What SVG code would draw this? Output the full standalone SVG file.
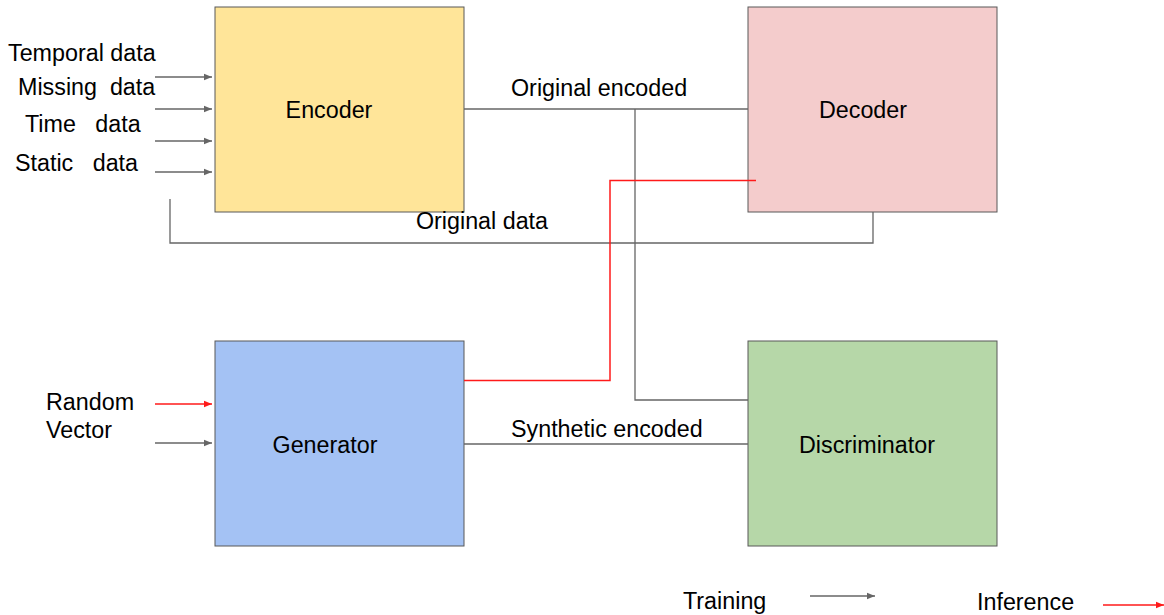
<svg xmlns="http://www.w3.org/2000/svg" width="1164" height="615" viewBox="0 0 1164 615">
<style>
text{font-family:"Liberation Sans",Arial,sans-serif;font-size:23.3px;fill:#000;white-space:pre}
.box{stroke:#595959;stroke-width:1}
.g{fill:none;stroke:#666;stroke-width:1.3}
.r{fill:none;stroke:#ff1a1a;stroke-width:1.5}
.m{text-anchor:middle}
</style>
<defs>
<marker id="ag" viewBox="0 0 10 10" refX="10" refY="5" markerWidth="8" markerHeight="8" markerUnits="userSpaceOnUse" orient="auto"><path d="M0,1 L10,5 L0,9 Z" fill="#666"/></marker>
<marker id="ar" viewBox="0 0 10 10" refX="10" refY="5" markerWidth="8" markerHeight="8" markerUnits="userSpaceOnUse" orient="auto"><path d="M0,1 L10,5 L0,9 Z" fill="#ff1a1a"/></marker>
</defs>
<rect width="1164" height="615" fill="#fff"/>
<g id="encoder">
<rect class="box" x="215" y="7" width="249" height="205" fill="#ffe599"/>
<text class="m" x="329" y="118">Encoder</text>
</g>
<g id="decoder">
<rect class="box" x="748" y="7" width="249" height="205" fill="#f4cccc"/>
<text class="m" x="863" y="118">Decoder</text>
</g>
<g id="generator">
<rect class="box" x="215" y="341" width="249" height="205" fill="#a4c2f4"/>
<text class="m" x="325" y="453">Generator</text>
</g>
<g id="discriminator">
<rect class="box" x="748" y="341" width="249" height="205" fill="#b6d7a8"/>
<text class="m" x="867" y="453">Discriminator</text>
</g>
<g id="inputs">
<text x="8" y="61">Temporal data</text>
<text x="18" y="95">Missing  data</text>
<text x="25" y="132">Time   data</text>
<text x="15" y="171">Static   data</text>
<text x="46" y="410">Random</text>
<text x="46" y="438">Vector</text>
</g>
<g id="connectors">
<line class="g" x1="155" y1="77" x2="212" y2="77" marker-end="url(#ag)"/>
<line class="g" x1="155" y1="109" x2="212" y2="109" marker-end="url(#ag)"/>
<line class="g" x1="155" y1="141" x2="212" y2="141" marker-end="url(#ag)"/>
<line class="g" x1="155" y1="172" x2="212" y2="172" marker-end="url(#ag)"/>
<line class="r" x1="155" y1="404" x2="212" y2="404" marker-end="url(#ar)"/>
<line class="g" x1="155" y1="443" x2="212" y2="443" marker-end="url(#ag)"/>
<line class="g" x1="464" y1="109" x2="748" y2="109"/>
<polyline class="g" points="635,109 635,400 748,400"/>
<polyline class="g" points="170,199 170,243 873,243 873,212"/>
<line class="g" x1="464" y1="444" x2="748" y2="444"/>
<polyline class="r" points="464,380.5 610,380.5 610,180.5 756,180.5"/>
<text x="511" y="96">Original encoded</text>
<text class="m" x="482" y="229">Original data</text>
<text x="511" y="437">Synthetic encoded</text>
</g>
<g id="legend">
<text x="683" y="609">Training</text>
<line class="g" x1="810" y1="596" x2="875" y2="596" marker-end="url(#ag)"/>
<text x="977" y="610">Inference</text>
<line class="r" x1="1103" y1="605" x2="1164" y2="605" marker-end="url(#ar)"/>
</g>
</svg>
